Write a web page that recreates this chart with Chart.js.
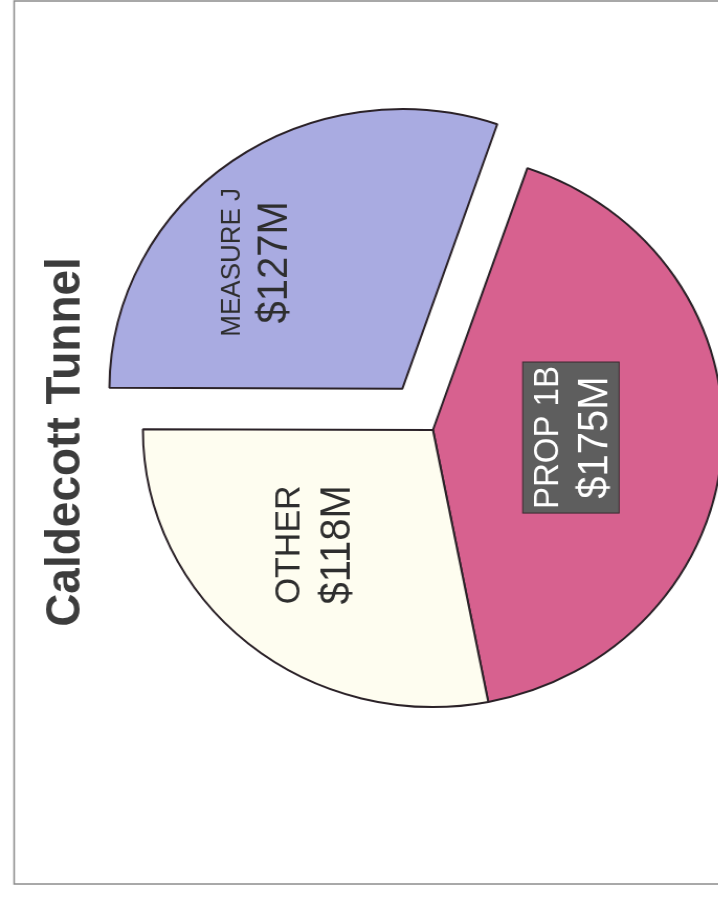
<!DOCTYPE html>
<html>
<head>
<meta charset="utf-8">
<script src="https://cdn.jsdelivr.net/npm/chart.js@4.4.0/dist/chart.umd.min.js"></script>
<style>
  html, body { margin: 0; padding: 0; background: #fff; overflow: hidden; }
  /* the scan is a little wider than tall, so stretch the drawing sideways */
  canvas { display: block; transform: scaleX(1.047); transform-origin: 0 0; }
</style>
</head>
<body>
<canvas id="pie" width="686" height="899"></canvas>
<script>
// data (in $M)
const chartTitle = 'Caldecott Tunnel';
const sources = ['PROP 1B', 'OTHER', 'MEASURE J'];
const amounts = [175, 118, 127];
const sliceColors = ['#d7618f', '#fefdf0', '#a9abe1'];
const explode = [0, 0, 202];

const FONT = "'Liberation Sans', Arial, sans-serif";

// the scanned page is turned a quarter turn, so all text is drawn rotated
const rotatedText = {
  id: 'rotatedText',
  beforeDraw(chart) {
    const { ctx, width, height } = chart;
    ctx.save();
    ctx.fillStyle = '#fff';
    ctx.fillRect(0, 0, width, height);
    ctx.strokeStyle = '#8c8c8c';
    ctx.lineWidth = 1.5;
    ctx.strokeRect(13.5, 1, width, 883);
    ctx.restore();
  },
  afterDatasetsDraw(chart, args, opts) {
    const { ctx } = chart;
    const meta = chart.getDatasetMeta(0);

    // title
    ctx.save();
    ctx.translate(opts.titleAt[0], opts.titleAt[1]);
    ctx.rotate(-Math.PI / 2);
    ctx.fillStyle = '#3c3c3c';
    ctx.font = `bold 46px ${FONT}`;
    ctx.textAlign = 'center';
    ctx.textBaseline = 'middle';
    ctx.fillText(chartTitle, 0, 0);
    ctx.restore();

    meta.data.forEach((arc, i) => {
      const a = opts.anchors[i].angle * Math.PI / 180;
      const cx = arc.x + Math.cos(a) * opts.anchors[i].dist;
      const cy = arc.y + Math.sin(a) * opts.anchors[i].dist;
      const lines = [
        { text: sources[i], size: opts.nameSize[i] },
        { text: '$' + amounts[i] + 'M', size: 40 },
      ];
      const gap = (lines[0].size + lines[1].size) / 2 * 1.25;

      ctx.save();
      ctx.translate(cx, cy);
      ctx.rotate(-Math.PI / 2);
      ctx.textAlign = 'center';
      ctx.textBaseline = 'middle';

      if (i === opts.boxed) {
        let w = 0;
        lines.forEach(l => {
          ctx.font = `${l.size}px ${FONT}`;
          w = Math.max(w, ctx.measureText(l.text).width);
        });
        const h = gap + (lines[0].size + lines[1].size) / 2 + 10;
        ctx.fillStyle = '#5e5e5e';
        ctx.strokeStyle = '#3a2a30';
        ctx.lineWidth = 1;
        ctx.fillRect(-w / 2 - 4, -h / 2 + 1, w + 8, h);
        ctx.strokeRect(-w / 2 - 4, -h / 2 + 1, w + 8, h);
      }

      ctx.fillStyle = i === opts.boxed ? '#ffffff' : '#2e2e2e';
      lines.forEach((l, k) => {
        ctx.font = `${l.size}px ${FONT}`;
        ctx.fillText(l.text, 0, (k === 0 ? -gap : gap) / 2 + 2);
      });
      ctx.restore();
    });
  }
};

new Chart(document.getElementById('pie'), {
  type: 'pie',
  data: {
    labels: sources,
    datasets: [{
      data: amounts,
      backgroundColor: sliceColors,
      borderColor: '#2b2228',
      borderWidth: 2,
      offset: explode,
    }],
  },
  options: {
    responsive: false,
    animation: false,
    rotation: 19,
    radius: 277,
    layout: { padding: { left: 141, right: 0, top: 0, bottom: 39 } },
    events: [],
    plugins: {
      legend: { display: false },
      tooltip: { enabled: false },
      rotatedText: {
        titleAt: [63, 442],
        anchors: [
          { angle: 3.3, dist: 131 },
          { angle: 135.2, dist: 163 },
          { angle: 224.1, dist: 241 },
        ],
        nameSize: [33, 34, 26],
        boxed: 0,
      },
    },
  },
  plugins: [rotatedText],
});
</script>
</body>
</html>
